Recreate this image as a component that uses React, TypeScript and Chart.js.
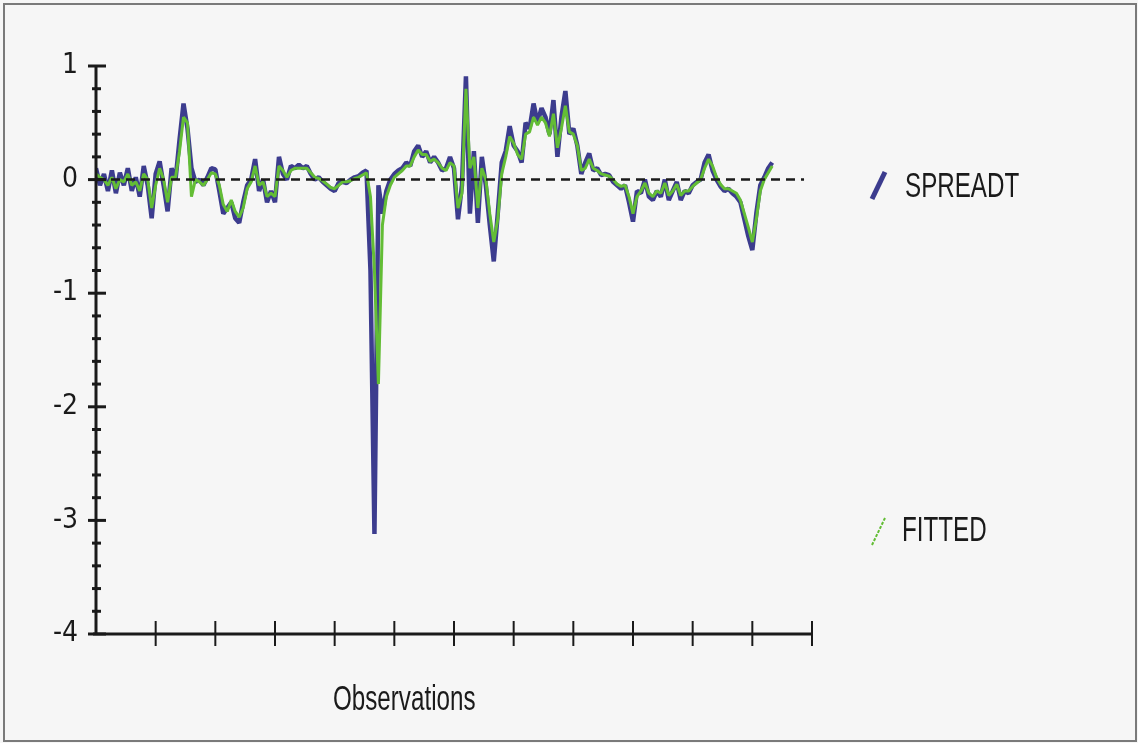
import React, { useEffect, useRef } from "react";
import { Chart, registerables } from "chart.js";

Chart.register(...registerables);

// ---- data ----
const OBS_MAX = 180;
const X_TICK_STEP = 15;
const Y_MIN = -4;
const Y_MAX = 1;
const Y_MINOR_STEP = 0.2;
const ZERO_LINE_END = 178;
const SERIES_NAMES = ["SPREADT", "FITTED"];
const X_TITLE = "Observations";

const SPREADT = [
  0.10, -0.05, 0.05, -0.10, 0.08, -0.12, 0.06, -0.05, 0.10, -0.10,
  0.02, -0.15, 0.12, -0.05, -0.34, 0.05, 0.16, -0.05, -0.28, 0.10,
  0.00, 0.35, 0.67, 0.45, 0.10, -0.02, 0.00, -0.05, 0.02, 0.10,
  0.09, -0.10, -0.30, -0.25, -0.20, -0.34, -0.38, -0.20, -0.05, 0.00,
  0.18, -0.10, 0.00, -0.20, -0.10, -0.20, 0.20, 0.05, 0.00, 0.12,
  0.10, 0.13, 0.10, 0.12, 0.05, 0.00, 0.02, -0.02, -0.05, -0.08,
  -0.10, -0.03, -0.02, -0.03, 0.00, 0.02, 0.03, 0.06, 0.08, -0.80,
  -3.12, -0.05, -0.30, -0.10, 0.00, 0.05, 0.08, 0.10, 0.15, 0.12,
  0.25, 0.30, 0.20, 0.25, 0.15, 0.20, 0.15, 0.08, 0.10, 0.20,
  0.10, -0.35, -0.05, 0.91, -0.30, 0.25, -0.38, 0.20, -0.05, -0.40,
  -0.72, -0.30, 0.15, 0.25, 0.47, 0.30, 0.25, 0.15, 0.50, 0.45,
  0.67, 0.50, 0.63, 0.55, 0.40, 0.70, 0.20, 0.55, 0.78, 0.40,
  0.45, 0.30, 0.05, 0.15, 0.23, 0.08, 0.10, 0.04, 0.05, 0.04,
  -0.02, -0.05, -0.08, -0.05, -0.20, -0.37, -0.10, -0.12, 0.00, -0.15,
  -0.18, -0.10, -0.15, 0.00, -0.18, -0.10, -0.02, -0.18, -0.10, -0.12,
  -0.05, -0.02, 0.00, 0.15, 0.22, 0.08, 0.00, -0.06, -0.10, -0.08,
  -0.12, -0.15, -0.20, -0.35, -0.50, -0.62, -0.30, -0.05, 0.02, 0.10,
  0.15,
];

const FITTED = [
  0.05, 0.02, 0.00, -0.05, 0.02, -0.08, 0.00, -0.02, 0.05, -0.05,
  -0.02, -0.10, 0.05, 0.00, -0.25, -0.05, 0.10, 0.00, -0.20, 0.02,
  0.02, 0.25, 0.55, 0.50, -0.15, 0.00, -0.02, -0.05, 0.00, 0.06,
  0.05, -0.05, -0.22, -0.28, -0.18, -0.28, -0.33, -0.25, -0.08, -0.02,
  0.12, -0.05, -0.02, -0.15, -0.12, -0.15, 0.12, 0.08, 0.02, 0.08,
  0.10, 0.10, 0.10, 0.10, 0.06, 0.02, 0.01, -0.01, -0.04, -0.07,
  -0.08, -0.05, -0.02, -0.02, -0.01, 0.01, 0.02, 0.04, 0.06, -0.15,
  -0.80, -1.80, -0.40, -0.15, -0.05, 0.02, 0.05, 0.08, 0.12, 0.12,
  0.20, 0.26, 0.22, 0.22, 0.16, 0.18, 0.15, 0.10, 0.08, 0.15,
  0.12, -0.25, -0.12, 0.80, 0.10, 0.20, -0.25, 0.10, 0.00, -0.30,
  -0.55, -0.35, 0.05, 0.20, 0.38, 0.32, 0.22, 0.18, 0.40, 0.42,
  0.55, 0.48, 0.55, 0.50, 0.38, 0.58, 0.28, 0.45, 0.65, 0.42,
  0.40, 0.30, 0.08, 0.10, 0.18, 0.10, 0.08, 0.05, 0.04, 0.03,
  0.00, -0.04, -0.06, -0.05, -0.15, -0.30, -0.15, -0.10, -0.03, -0.12,
  -0.15, -0.10, -0.12, -0.03, -0.14, -0.10, -0.04, -0.14, -0.10, -0.10,
  -0.06, -0.03, 0.00, 0.10, 0.18, 0.12, 0.02, -0.04, -0.08, -0.08,
  -0.10, -0.12, -0.18, -0.30, -0.42, -0.55, -0.35, -0.10, 0.00, 0.06,
  0.12,
];

const BLUE = "#3c3c8e";
const GREEN = "#63bd35";
const INK = "#1a1a1a";
const TICK_FONT = "'DejaVu Sans Condensed', 'Liberation Sans', sans-serif";
const TEXT_FONT = "'Liberation Sans', Arial, sans-serif";

const decoPlugin = {
  id: "decoAxes",
  afterDatasetsDraw(chart: any) {
    const { ctx, scales } = chart;
    const xs = scales.x;
    const ys = scales.y;
    const y0 = ys.getPixelForValue(0);
    ctx.save();
    ctx.setLineDash([9, 6]);
    ctx.strokeStyle = INK;
    ctx.lineWidth = 2.5;
    ctx.beginPath();
    ctx.moveTo(xs.getPixelForValue(0), y0);
    ctx.lineTo(xs.getPixelForValue(ZERO_LINE_END), y0);
    ctx.stroke();
    ctx.restore();
  },
  afterDraw(chart: any) {
    const { ctx, scales } = chart;
    const xs = scales.x;
    const ys = scales.y;
    const left = xs.getPixelForValue(0);
    const right = xs.getPixelForValue(OBS_MAX);
    const top = ys.getPixelForValue(Y_MAX);
    const bottom = ys.getPixelForValue(Y_MIN);
    ctx.save();
    ctx.strokeStyle = INK;
    ctx.lineCap = "butt";
    ctx.lineWidth = 3;
    ctx.beginPath();
    ctx.moveTo(left, top);
    ctx.lineTo(left, bottom);
    ctx.stroke();
    const nMinor = Math.round((Y_MAX - Y_MIN) / Y_MINOR_STEP);
    for (let k = 0; k <= nMinor; k++) {
      const v = Y_MIN + k * Y_MINOR_STEP;
      const py = ys.getPixelForValue(v);
      const major = Math.abs(v - Math.round(v)) < 1e-6;
      ctx.lineWidth = 3;
      ctx.beginPath();
      if (major) {
        ctx.moveTo(left - 8, py);
        ctx.lineTo(left + 10, py);
      } else {
        ctx.moveTo(left - 4, py);
        ctx.lineTo(left + 5, py);
      }
      ctx.stroke();
    }
    ctx.lineWidth = 3;
    ctx.beginPath();
    ctx.moveTo(left - 3, bottom);
    ctx.lineTo(right, bottom);
    ctx.stroke();
    ctx.lineWidth = 2;
    for (let v = X_TICK_STEP; v <= OBS_MAX; v += X_TICK_STEP) {
      const px = xs.getPixelForValue(v);
      ctx.beginPath();
      ctx.moveTo(px, bottom - 13);
      ctx.lineTo(px, bottom + 12);
      ctx.stroke();
    }
    ctx.restore();
  },
};

const textStyle: React.CSSProperties = {
  position: "absolute",
  fontFamily: TEXT_FONT,
  fontSize: 29.5,
  lineHeight: "30px",
  height: 30,
  color: INK,
  whiteSpace: "nowrap",
  transform: "scale(0.82, 1.2)",
  transformOrigin: "left center",
};

export default function App() {
  const canvasRef = useRef<HTMLCanvasElement | null>(null);

  useEffect(() => {
    const canvas = canvasRef.current;
    if (!canvas) return;
    const chart = new Chart(canvas, {
      type: "line",
      data: {
        datasets: [
          {
            label: SERIES_NAMES[0],
            data: SPREADT.map((y, i) => ({ x: i, y })),
            borderColor: BLUE,
            backgroundColor: BLUE,
            borderWidth: 4.5,
            borderJoinStyle: "bevel",
            tension: 0,
            pointRadius: 0,
            order: 1,
          },
          {
            label: SERIES_NAMES[1],
            data: FITTED.map((y, i) => ({ x: i, y })),
            borderColor: GREEN,
            backgroundColor: GREEN,
            borderWidth: 3,
            borderJoinStyle: "bevel",
            tension: 0,
            pointRadius: 0,
            order: 0,
          },
        ],
      },
      options: {
        animation: false,
        responsive: false,
        maintainAspectRatio: false,
        layout: { padding: { top: 66, right: 326, left: 0, bottom: 0 } },
        plugins: { legend: { display: false }, tooltip: { enabled: false } },
        scales: {
          x: {
            type: "linear",
            min: 0,
            max: OBS_MAX,
            grid: { display: false },
            border: { display: false },
            ticks: { display: false },
            afterFit: (s: any) => {
              s.height = 109;
            },
          },
          y: {
            min: Y_MIN,
            max: Y_MAX,
            grid: { display: false },
            border: { display: false },
            ticks: {
              stepSize: 1,
              padding: 10,
              color: INK,
              font: { family: TICK_FONT, size: 28 },
            },
            afterFit: (s: any) => {
              s.width = 96;
            },
          },
        },
      },
      plugins: [decoPlugin],
    } as any);
    return () => chart.destroy();
  }, []);

  return (
    <div
      style={{
        position: "fixed",
        left: 0,
        top: 0,
        width: 1138,
        height: 743,
        background: "#f6f6f6",
        overflow: "hidden",
      }}
    >
      <div
        style={{
          position: "absolute",
          left: 3,
          top: 3,
          width: 1130,
          height: 735,
          border: "2px solid #7a7a7a",
        }}
      />
      <canvas
        ref={canvasRef}
        width={1138}
        height={743}
        style={{ position: "absolute", left: 0, top: 0, width: 1138, height: 743 }}
      />
      <svg
        width={1138}
        height={743}
        style={{ position: "absolute", left: 0, top: 0, pointerEvents: "none" }}
      >
        <line x1={872} y1={199} x2={885} y2={172} stroke={BLUE} strokeWidth={5} />
        <line x1={872} y1={545} x2={885} y2={518} stroke={GREEN} strokeWidth={2} strokeDasharray="3 1.5" />
      </svg>
      <div style={{ ...textStyle, left: 905, top: 185 - 15 }}>{SERIES_NAMES[0]}</div>
      <div style={{ ...textStyle, left: 902, top: 529 - 15 }}>{SERIES_NAMES[1]}</div>
      <div style={{ ...textStyle, left: 333, top: 698 - 15 }}>{X_TITLE}</div>
    </div>
  );
}
